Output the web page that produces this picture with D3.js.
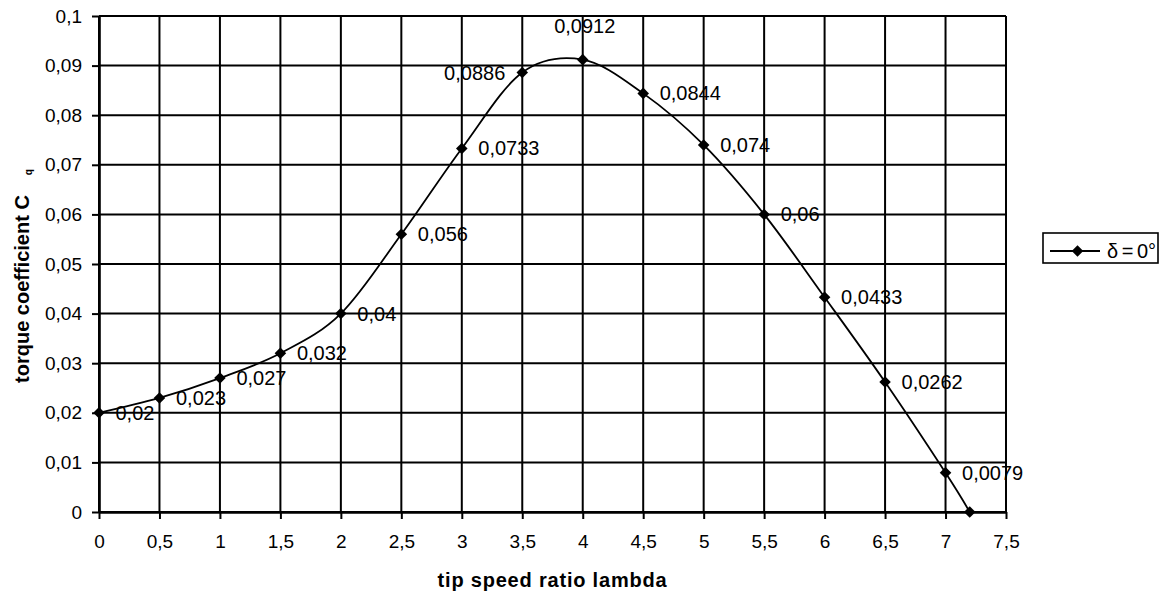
<!DOCTYPE html>
<html>
<head>
<meta charset="utf-8">
<script src="https://cdn.jsdelivr.net/npm/d3@7/dist/d3.min.js"></script>
<style>
  html, body { margin: 0; padding: 0; background: #fff; }
  svg { display: block; }
  text { font-family: Arial, "Liberation Sans", sans-serif; fill: #000; }
</style>
</head>
<body>
<svg id="chart" width="1173" height="596"></svg>
<script>
// Tip speed ratio (lambda) and torque coefficient Cq for delta = 0°
const lambda = [0, 0.5, 1, 1.5, 2, 2.5, 3, 3.5, 4, 4.5, 5, 5.5, 6, 6.5, 7, 7.2];
const cq = [0.02, 0.023, 0.027, 0.032, 0.04, 0.056, 0.0733, 0.0886, 0.0912, 0.0844, 0.074, 0.06, 0.0433, 0.0262, 0.0079, 0];
// Which points carry a value label (the last point at Cq = 0 has none)
const labelled = [true, true, true, true, true, true, true, true, true, true, true, true, true, true, true, false];
const xTicks = [0, 0.5, 1, 1.5, 2, 2.5, 3, 3.5, 4, 4.5, 5, 5.5, 6, 6.5, 7, 7.5];
const yTicks = [0, 0.01, 0.02, 0.03, 0.04, 0.05, 0.06, 0.07, 0.08, 0.09, 0.1];
const seriesName = "δ = 0°";

const svg = d3.select("#chart");
const fmt = v => String(v).replace(".", ",");

const x = d3.scaleLinear().domain([0, 7.5]).range([99, 1006]);
const y = d3.scaleLinear().domain([0, 0.1]).range([512, 16]);

// Grid lines
const grid = svg.append("g");
grid.selectAll("line.v").data(xTicks).join("line")
  .attr("x1", d => x(d)).attr("x2", d => x(d))
  .attr("y1", y(0.1)).attr("y2", y(0))
  .attr("stroke", "#000").attr("stroke-width", 2);
grid.selectAll("line.h").data(yTicks).join("line")
  .attr("x1", x(0)).attr("x2", x(7.5))
  .attr("y1", d => y(d)).attr("y2", d => y(d))
  .attr("stroke", "#000").attr("stroke-width", 2);

// Axes
const xAxis = d3.axisBottom(x).tickValues(xTicks).tickFormat(fmt).tickSizeInner(7).tickSizeOuter(0).tickPadding(16);
const yAxis = d3.axisLeft(y).tickValues(yTicks).tickFormat(fmt).tickSizeInner(7).tickSizeOuter(0).tickPadding(10);

const gx = svg.append("g").attr("transform", `translate(0,${y(0)})`).call(xAxis);
const gy = svg.append("g").attr("transform", `translate(${x(0)},0)`).call(yAxis);
[gx, gy].forEach(g => {
  g.select(".domain").attr("stroke", "#000").attr("stroke-width", 2.6);
  g.selectAll(".tick line").attr("stroke", "#000").attr("stroke-width", 2);
  g.selectAll(".tick text").attr("font-size", 19).attr("font-family", "Arial, 'Liberation Sans', sans-serif").attr("fill", "#000");
});

// Axis titles
svg.append("text")
  .attr("x", (x(0) + x(7.5)) / 2).attr("y", 587)
  .attr("text-anchor", "middle")
  .attr("font-size", 20).attr("font-weight", "bold")
  .attr("letter-spacing", 0.8)
  .text("tip speed ratio lambda");

const yTitle = svg.append("text")
  .attr("transform", `translate(29,${(y(0) + y(0.1)) / 2 + 12}) rotate(-90)`)
  .attr("text-anchor", "middle")
  .attr("font-size", 20).attr("font-weight", "bold");
yTitle.append("tspan").text("torque coefficient C");
yTitle.append("tspan").attr("font-size", 10).attr("dx", 20).attr("dy", 3).text("q");

// Smoothed series line
const pts = lambda.map((l, i) => ({ l, v: cq[i], lab: labelled[i] }));
const line = d3.line().x(d => x(d.l)).y(d => y(d.v)).curve(d3.curveCardinal.tension(0));
svg.append("path").datum(pts)
  .attr("d", line)
  .attr("fill", "none").attr("stroke", "#000").attr("stroke-width", 1.8);

// Diamond markers
const diamond = d3.symbol().type(d3.symbolDiamond2).size(85);
svg.append("g").selectAll("path").data(pts).join("path")
  .attr("transform", d => `translate(${x(d.l)},${y(d.v)})`)
  .attr("d", diamond)
  .attr("fill", "#000");

// Value labels: right of the point by default, left at the 3.5 point, above at the peak
svg.append("g").selectAll("text").data(pts.filter(d => d.lab)).join("text")
  .attr("font-size", 20)
  .text(d => fmt(d.v))
  .each(function (d) {
    const t = d3.select(this);
    const px = x(d.l), py = y(d.v);
    if (d.l === 3.5) {
      t.attr("x", px - 17).attr("y", py + 7).attr("text-anchor", "end");
    } else if (d.l === 4) {
      t.attr("x", px + 2).attr("y", py - 27).attr("text-anchor", "middle");
    } else {
      t.attr("x", px + 16.5).attr("y", py + 7).attr("text-anchor", "start");
    }
  });

// Legend
const lg = svg.append("g");
lg.append("rect").attr("x", 1043).attr("y", 233).attr("width", 115).attr("height", 30)
  .attr("fill", "#fff").attr("stroke", "#000").attr("stroke-width", 1.6);
lg.append("line").attr("x1", 1050).attr("x2", 1100).attr("y1", 251).attr("y2", 251)
  .attr("stroke", "#000").attr("stroke-width", 1.8);
lg.append("path").attr("transform", "translate(1077.5,251)").attr("d", diamond).attr("fill", "#000");
lg.append("text").attr("x", 1107).attr("y", 258)
  .attr("font-family", "'Liberation Serif', 'Times New Roman', serif")
  .attr("font-size", 20).attr("word-spacing", -2).text(seriesName);
</script>
</body>
</html>
